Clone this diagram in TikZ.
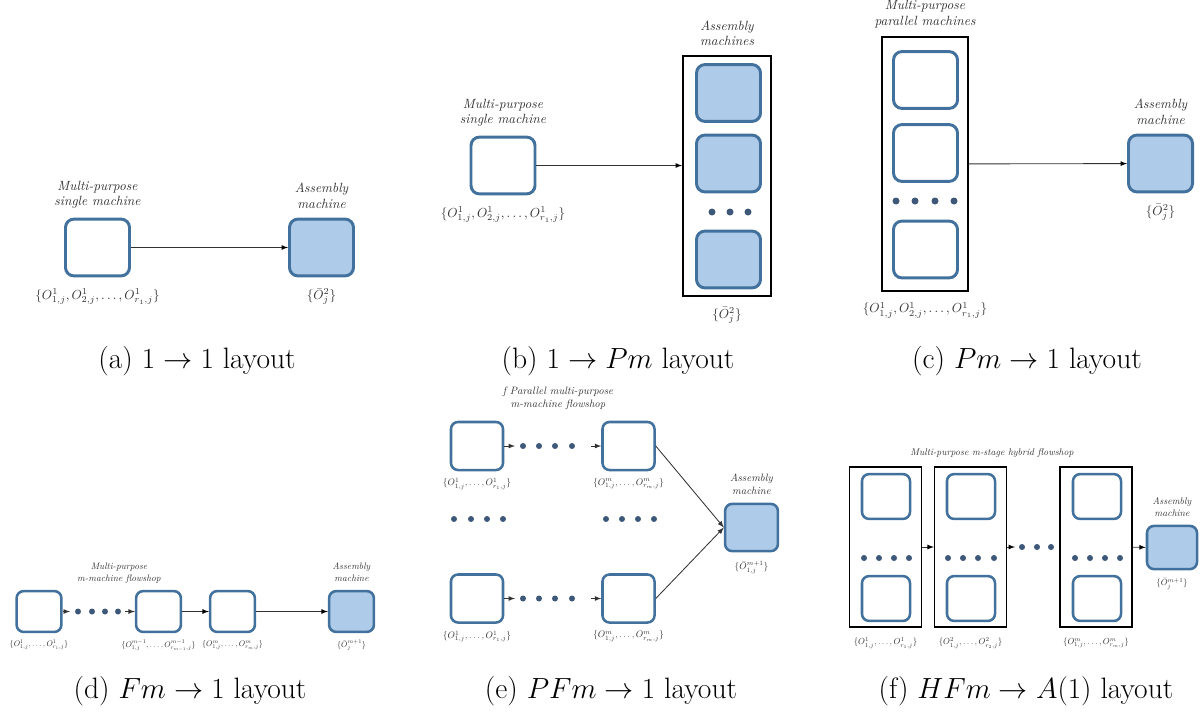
\documentclass[tikz,border=0pt]{standalone}
\usepackage{amsmath}
\usetikzlibrary{arrows,positioning}
\definecolor{mblue}{RGB}{65,113,156}
\definecolor{afill}{RGB}{174,203,233}
\definecolor{dotc}{RGB}{62,88,122}
\definecolor{txt}{RGB}{50,50,50}

\begin{document}
\begin{tikzpicture}[x=0.025cm,y=-0.025cm,>=latex,
        machine/.style={draw=mblue,line width=2.1pt,rounded corners=6pt,minimum width=1.6cm,minimum height=1.42cm,inner sep=0pt},
        assembly/.style={machine,fill=afill},
        dsize/.style={line width=1.8pt,rounded corners=5pt,minimum width=1.12cm,minimum height=1.02cm},
        esize/.style={line width=1.8pt,rounded corners=5pt,minimum width=1.3cm,minimum height=1.2cm},
        fsize/.style={line width=1.8pt,rounded corners=5pt,minimum width=1.2cm,minimum height=1.12cm},
        stage/.style={draw=black,line width=1.4pt,inner sep=0pt},
        flow/.style={->,draw=txt,line width=0.6pt},
        tag/.style={font=\fontsize{9.5}{11}\selectfont\itshape,text=txt,align=center,inner sep=0pt},
        ops/.style={font=\fontsize{10}{12}\selectfont,text=txt,inner sep=0pt,scale=0.93},
        dtag/.style={tag,font=\fontsize{10}{12.5}\selectfont\itshape,scale=0.67},
        dops/.style={ops,scale=0.62},
        etag/.style={tag,font=\fontsize{10}{12.2}\selectfont\itshape,scale=0.76},
        eops/.style={ops,scale=0.72},
        ftag/.style={tag,font=\fontsize{10}{12.2}\selectfont\itshape,scale=0.69},
        fops/.style={ops,scale=0.67},
        subcap/.style={font=\fontsize{21}{25}\selectfont,anchor=base,inner sep=0pt}]
    \useasboundingbox (0,0) rectangle (1202,713);

    % (a) 1 -> 1
    \node[machine]  (sa) at (97.5,247.5) {};
    \node[assembly] (aa) at (321.5,247.5) {};
    \node[tag] (sal) [above=0.22cm of sa] {Multi-purpose\\single machine};
    \node[tag] (aal) [above=0.22cm of aa] {Assembly\\machine};
    \node[ops] (sao) [below=0.28cm of sa] {$\{O^1_{1,j},O^1_{2,j},\ldots,O^1_{r_1,j}\}$};
    \node[ops] (aao) [below=0.28cm of aa] {$\{\bar{O}^2_j\}$};
    \path[flow] (sa) edge (aa);
    \node[subcap] (capa) at (197,368) {(a) $1\rightarrow 1$ layout};

    % (b) 1 -> Pm
    \node[machine] (sb) at (503,165.5) {};
    \node[stage,minimum width=2.2cm,minimum height=6.0cm] (bm) at (727,176) {};
    \node[assembly] (bm1) at (728.5,93) {};
    \node[assembly] (bm2) at (728.5,163.5) {};
    \node[assembly] (bm3) at (728.5,259.5) {};
    \foreach \x in {712,730,748} \fill[dotc] (\x,212) circle (3.5);
    \node[tag] (sbl) [above=0.22cm of sb] {Multi-purpose\\single machine};
    \node[tag] (bml) [above=0.22cm of bm] {Assembly\\machines};
    \node[ops] (sbo) [below=0.28cm of sb] {$\{O^1_{1,j},O^1_{2,j},\ldots,O^1_{r_1,j}\}$};
    \node[ops] (bmo) [below=0.25cm of bm] {$\{\bar{O}^2_j\}$};
    \coordinate (bin) at (sb -| bm.west);
    \path[flow] (sb) edge (bin);
    \node[subcap] (capb) at (618,368) {(b) $1\rightarrow Pm$ layout};

    % (c) Pm -> 1
    \node[stage,minimum width=2.15cm,minimum height=6.35cm] (cm) at (925,164) {};
    \node[machine] (cm1) at (925.5,80) {};
    \node[machine] (cm2) at (925.5,153) {};
    \node[machine] (cm3) at (925.5,249.5) {};
    \foreach \x in {896,915,935,954} \fill[dotc] (\x,201) circle (3.5);
    \node[assembly] (ca) at (1160.5,163.5) {};
    \node[tag] (cml) [above=0.2cm of cm] {Multi-purpose\\parallel machines};
    \node[tag] (cal) [above=0.22cm of ca] {Assembly\\machine};
    \node[ops] (cmo) [below=0.25cm of cm] {$\{O^1_{1,j},O^1_{2,j},\ldots,O^1_{r_1,j}\}$};
    \node[ops] (cao) [below=0.27cm of ca] {$\{\bar{O}^2_j\}$};
    \path[flow] (cm) edge (ca);
    \node[subcap] (capc) at (1027,368) {(c) $Pm\rightarrow 1$ layout};

    % (d) Fm -> 1
    \node[machine,dsize]  (d1) at (39,611.5) {};
    \node[machine,dsize]  (d2) at (158.5,611.5) {};
    \node[machine,dsize]  (d3) at (232.5,611.5) {};
    \node[assembly,dsize] (da) at (351.5,611.5) {};
    \coordinate (d1e) at (70,611.5);
    \coordinate (d2w) at (125,611.5);
    \foreach \x in {78,92,105,118} \fill[dotc] (\x,611.5) circle (3);
    \node[dtag] (dl) at (119,573) {Multi-purpose\\m-machine flowshop};
    \node[dtag] (dal) [above=0.2cm of da] {Assembly\\machine};
    \node[dops] (d1o) [below=0.17cm of d1] {$\{O^1_{1,j},\ldots,O^1_{r_1,j}\}$};
    \node[dops] (d2o) [below=0.17cm of d2] {$\{O^{m-1}_{1,j},\ldots,O^{m-1}_{r_{m-1},j}\}$};
    \node[dops] (d3o) [below=0.17cm of d3] {$\{O^m_{1,j},\ldots,O^m_{r_m,j}\}$};
    \node[dops] (dao) [below=0.17cm of da] {$\{\bar{O}^{m+1}_j\}$};
    \draw[flow] (d1) -- (d1e);
    \draw[flow] (d2w) -- (d2);
    \path[flow] (d2) edge (d3)
                (d3) edge (da);
    \node[subcap] (capd) at (190,698) {(d) $Fm\rightarrow 1$ layout};

    % (e) PFm -> 1
    \node[machine,esize] (e11) at (477,446) {};
    \node[machine,esize] (e1m) at (628.5,446) {};
    \node[machine,esize] (e21) at (477,598.5) {};
    \node[machine,esize] (e2m) at (628.5,598.5) {};
    \node[assembly,esize,minimum width=1.32cm,minimum height=1.18cm] (ea) at (751.5,527.5) {};
    \coordinate (e1a) at (515,446);
    \coordinate (e1b) at (591,446);
    \coordinate (e2a) at (515,598.5);
    \coordinate (e2b) at (591,598.5);
    \foreach \x in {523,539,555,572} {
        \fill[dotc] (\x,446) circle (3);
        \fill[dotc] (\x,598.5) circle (3);
    }
    \foreach \x in {454,471,487,503,606,622,638,654} \fill[dotc] (\x,519) circle (3);
    \node[etag] (el) at (558,398) {f Parallel multi-purpose\\m-machine flowshop};
    \node[etag] (eal) [above=0.2cm of ea] {Assembly\\machine};
    \node[eops] (e11o) [below=0.17cm of e11] {$\{O^1_{1,j},\ldots,O^1_{r_1,j}\}$};
    \node[eops] (e1mo) [below=0.17cm of e1m] {$\{O^m_{1,j},\ldots,O^m_{r_m,j}\}$};
    \node[eops] (e21o) [below=0.17cm of e21] {$\{O^1_{1,j},\ldots,O^1_{r_1,j}\}$};
    \node[eops] (e2mo) [below=0.17cm of e2m] {$\{O^m_{1,j},\ldots,O^m_{r_m,j}\}$};
    \node[eops] (eao) [below=0.22cm of ea] {$\{\bar{O}^{m+1}_{1,j}\}$};
    \draw[flow] (e11) -- (e1a);
    \draw[flow] (e1b) -- (e1m);
    \draw[flow] (e21) -- (e2a);
    \draw[flow] (e2b) -- (e2m);
    \draw[flow] (e1m.east) -- (ea.west);
    \draw[flow] (e2m.east) -- (ea.west);
    \node[subcap] (cape) at (611,698) {(e) $PFm\rightarrow 1$ layout};

    % (f) HFm -> A(1)
    \node[stage,line width=1.1pt,minimum width=1.79cm,minimum height=4.01cm] (f1) at (885.5,547) {};
    \node[stage,line width=1.1pt,minimum width=1.79cm,minimum height=4.01cm] (f2) at (970.5,547) {};
    \node[stage,line width=1.1pt,minimum width=1.79cm,minimum height=4.01cm] (f3) at (1096,547) {};
    \node[machine,fsize] (f11) at (886,496.5) {};
    \node[machine,fsize] (f12) at (886,598.5) {};
    \node[machine,fsize] (f21) at (971,496.5) {};
    \node[machine,fsize] (f22) at (971,598.5) {};
    \node[machine,fsize] (f31) at (1097,496.5) {};
    \node[machine,fsize] (f32) at (1097,598.5) {};
    \node[assembly,fsize,minimum width=1.25cm,minimum height=1.08cm] (fa) at (1172,547.5) {};
    \foreach \x in {864,879,894,909,948,963,978,994,1075,1090,1105,1120} \fill[dotc] (\x,558) circle (3);
    \foreach \x in {1022,1037,1051} \fill[dotc] (\x,547) circle (3);
    \coordinate (f2e) at (1015,547);
    \node[ftag] (fl) at (992,453) {Multi-purpose m-stage hybrid flowshop};
    \node[ftag] (fal) [above=0.2cm of fa] {Assembly\\machine};
    \node[fops] (f1o) [below=0.24cm of f1] {$\{O^1_{1,j},\ldots,O^1_{r_1,j}\}$};
    \node[fops] (f2o) [below=0.24cm of f2] {$\{O^2_{1,j},\ldots,O^2_{r_2,j}\}$};
    \node[fops] (f3o) [below=0.24cm of f3] {$\{O^m_{1,j},\ldots,O^m_{r_m,j}\}$};
    \node[fops] (fao) [below=0.19cm of fa] {$\{\bar{O}^{m+1}_j\}$};
    \path[flow] (f1) edge (f2)
                (f2) edge (f2e)
                (f3) edge (fa);
    \node[subcap] (capf) at (1026,698) {(f) $HFm\rightarrow A(1)$ layout};
\end{tikzpicture}
\end{document}
